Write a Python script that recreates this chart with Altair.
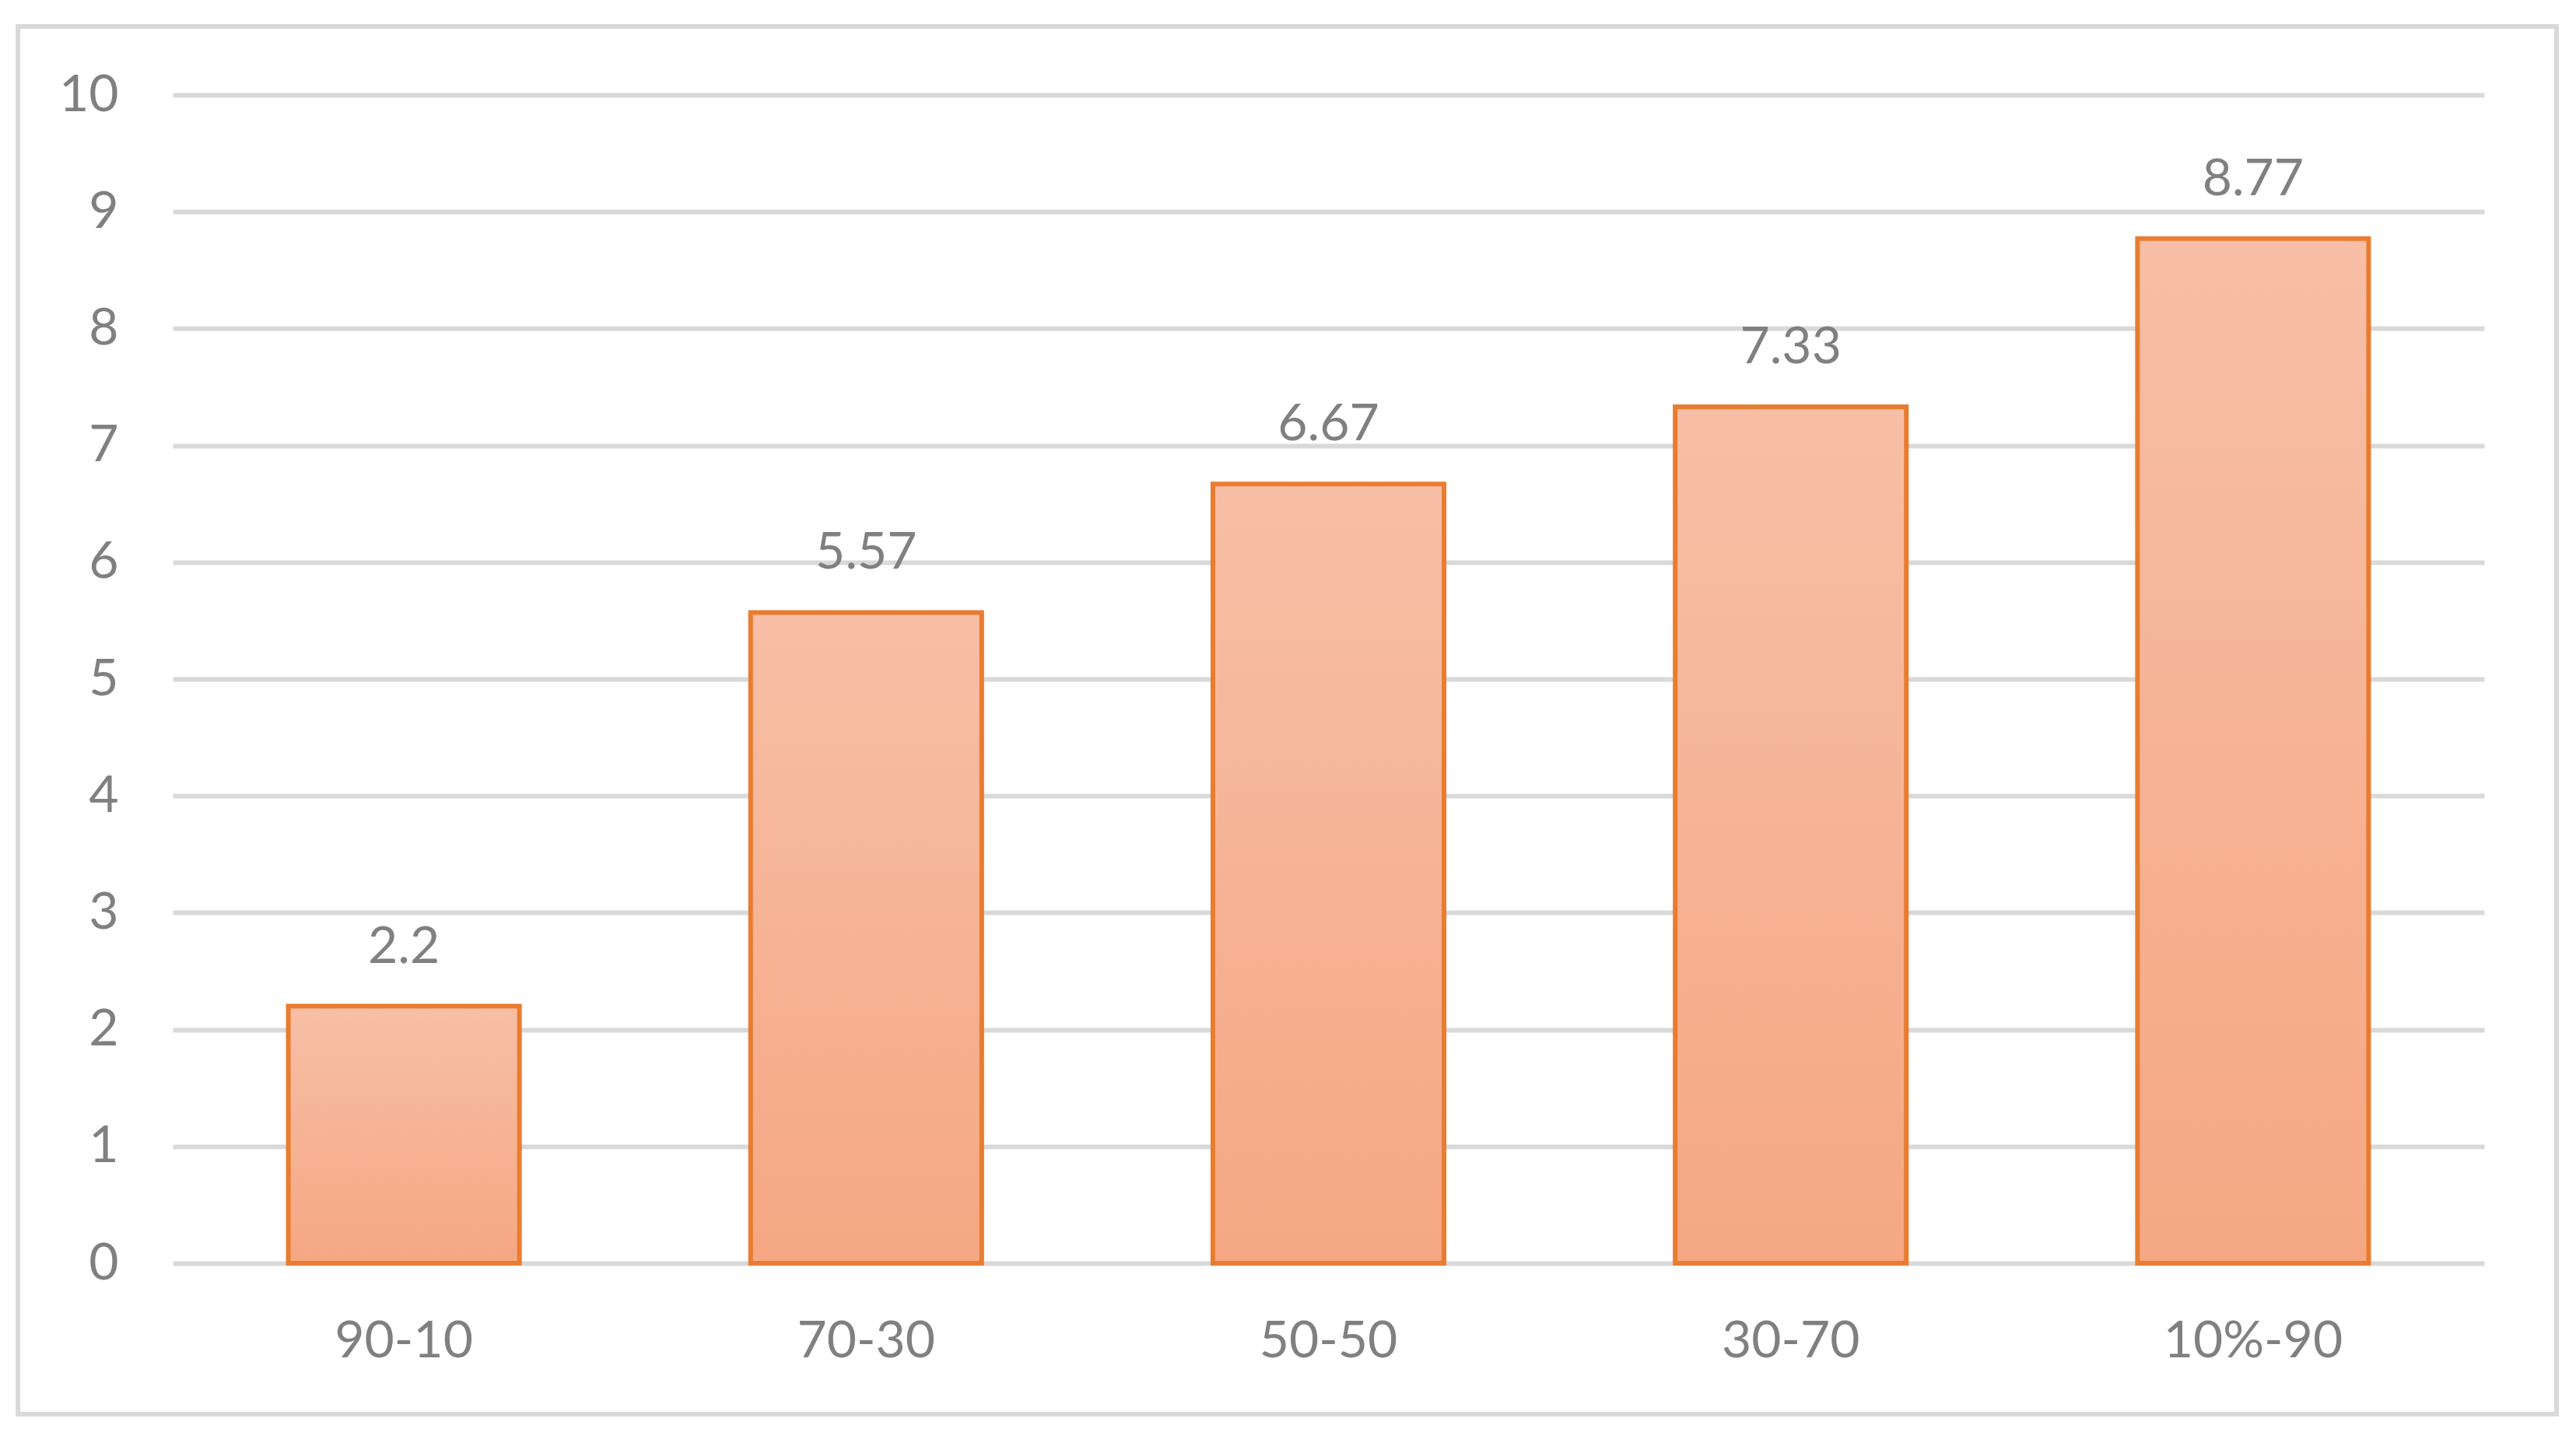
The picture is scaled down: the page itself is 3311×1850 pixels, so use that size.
import altair as alt
import pandas as pd

categories = ["90-10", "70-30", "50-50", "30-70", "10%-90"]
values = [2.2, 5.57, 6.67, 7.33, 8.77]
labels = ["2.2", "5.57", "6.67", "7.33", "8.77"]
y_ticks = list(range(0, 11))

df = pd.DataFrame({"cat": categories, "val": values, "lab": labels})

FONT = "Lato"
GRAY = "#808080"

x_enc = alt.X(
    "cat:N",
    sort=categories,
    title=None,
    scale=alt.Scale(paddingInner=0.5, paddingOuter=0.25),
    axis=alt.Axis(
        labelAngle=0, labelFont=FONT, labelFontSize=66, labelColor=GRAY,
        domain=False, ticks=False, tickSize=0, labelPadding=68, grid=False,
        labelLimit=0,
    ),
)
y_enc = alt.Y(
    "val:Q",
    title=None,
    scale=alt.Scale(domain=[0, 10], nice=False),
    axis=alt.Axis(
        values=y_ticks, format="d", labelFont=FONT, labelFontSize=66, labelColor=GRAY,
        domain=False, ticks=False, tickSize=0, labelPadding=70,
        grid=True, gridColor="#D9D9D9", gridWidth=6, labelLimit=0,
    ),
)

grad = alt.Gradient(
    gradient="linear",
    stops=[
        alt.GradientStop(color="#F7BFA6", offset=0),
        alt.GradientStop(color="#F5A783", offset=1),
    ],
    x1=0, x2=0, y1=0, y2=1,
)

bars = alt.Chart(df).mark_bar(
    color=grad, stroke="#E97C30", strokeWidth=6, cornerRadius=0,
).encode(x=x_enc, y=y_enc)

text = alt.Chart(df).mark_text(
    font=FONT, fontSize=66, color=GRAY, baseline="alphabetic", dy=-56,
).encode(x=alt.X("cat:N", sort=categories), y="val:Q", text="lab:N")

border = alt.Chart(df).mark_rect(
    fillOpacity=0, stroke="#D9D9D9", strokeWidth=6,
).encode(
    x=alt.value(-199), x2=alt.value(3064),
    y=alt.value(-88), y2=alt.value(1696),
)

chart = alt.layer(bars, text, border).properties(
    width=2971,
    height=1502,
    autosize=alt.AutoSizeParams(type="none"),
    padding={"left": 214, "top": 114, "right": 100, "bottom": 200},
).configure_view(strokeWidth=0)

chart.save("out.html", embed_options={"renderer": "svg", "actions": False})
